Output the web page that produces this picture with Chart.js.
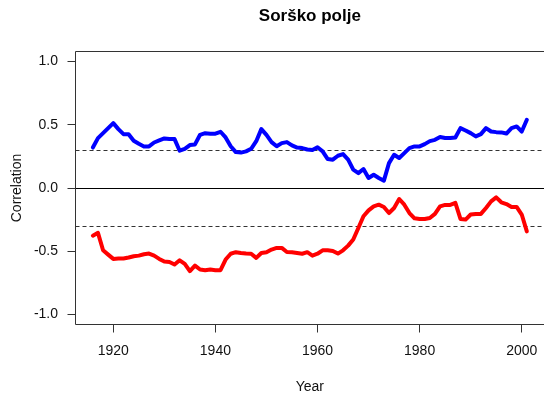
<!DOCTYPE html>
<html>
<head>
<meta charset="UTF-8">
<title>Sorško polje</title>
<style>
  html, body { margin: 0; padding: 0; background: #fff; overflow: hidden; }
  #wrap { width: 560px; height: 398px; }
</style>
<script src="https://cdn.jsdelivr.net/npm/chart.js"></script>
</head>
<body>
<div id="wrap"><canvas id="chart" width="560" height="398"></canvas></div>
<script>
  // yearly correlations, 1916 .. 2001
  var firstYear = 1916;

  var positive = [
    0.32, 0.395, 0.434, 0.474, 0.513, 0.466, 0.426, 0.426, 0.374, 0.35,
    0.329, 0.329, 0.36, 0.376, 0.392, 0.387, 0.387, 0.295, 0.31, 0.34,
    0.345, 0.421, 0.434, 0.43, 0.43, 0.445, 0.40, 0.33, 0.284, 0.28,
    0.29, 0.31, 0.37, 0.466, 0.42, 0.363, 0.33, 0.355, 0.363, 0.337,
    0.32, 0.316, 0.305, 0.30, 0.322, 0.29, 0.229, 0.224, 0.255, 0.268,
    0.224, 0.145, 0.118, 0.15, 0.079, 0.105, 0.079, 0.058, 0.197, 0.263,
    0.237, 0.276, 0.316, 0.329, 0.329, 0.347, 0.371, 0.381, 0.403, 0.395,
    0.395, 0.40, 0.474, 0.455, 0.434, 0.408, 0.426, 0.474, 0.447, 0.442,
    0.44, 0.431, 0.474, 0.487, 0.447, 0.54
  ];

  var negative = [
    -0.377, -0.355, -0.493, -0.527, -0.561, -0.558, -0.558, -0.55, -0.54, -0.535,
    -0.524, -0.519, -0.535, -0.561, -0.582, -0.585, -0.606, -0.572, -0.60, -0.658,
    -0.614, -0.645, -0.65, -0.645, -0.65, -0.65, -0.566, -0.52, -0.508, -0.514,
    -0.519, -0.52, -0.553, -0.514, -0.508, -0.487, -0.474, -0.474, -0.506, -0.508,
    -0.514, -0.52, -0.508, -0.535, -0.52, -0.493, -0.493, -0.498, -0.519, -0.493,
    -0.456, -0.408, -0.316, -0.224, -0.177, -0.145, -0.132, -0.15, -0.198, -0.158,
    -0.087, -0.132, -0.198, -0.24, -0.245, -0.245, -0.237, -0.205, -0.145, -0.134,
    -0.134, -0.118, -0.245, -0.25, -0.21, -0.205, -0.205, -0.158, -0.106, -0.074,
    -0.113, -0.127, -0.15, -0.15, -0.21, -0.343
  ];

  var yearTicks = [1920, 1940, 1960, 1980, 2000];
  var corrTicks = [-1, -0.5, 0, 0.5, 1];
  var threshold = 0.3;

  var font = "'Liberation Sans', Arial, sans-serif";

  function toPoints(values) {
    return values.map(function (v, i) { return { x: firstYear + i, y: v }; });
  }

  function fixedTicks(values) {
    return function (scale) {
      scale.ticks = values.map(function (v) { return { value: v }; });
    };
  }

  // box around the plot plus the zero line and the +-threshold dashed lines
  var framePlugin = {
    id: 'frame',
    beforeDatasetsDraw: function (chart) {
      var a = chart.chartArea, ctx = chart.ctx, ys = chart.scales.y;
      ctx.save();
      ctx.lineWidth = 1;

      ctx.strokeStyle = '#000';
      var y0 = Math.round(ys.getPixelForValue(0)) + 0.5;
      ctx.beginPath();
      ctx.moveTo(a.left, y0);
      ctx.lineTo(a.right, y0);
      ctx.stroke();

      ctx.strokeStyle = '#333';
      ctx.setLineDash([4, 3]);
      [threshold, -threshold].forEach(function (t) {
        var yy = Math.round(ys.getPixelForValue(t)) + 0.5;
        ctx.beginPath();
        ctx.moveTo(a.left, yy);
        ctx.lineTo(a.right, yy);
        ctx.stroke();
      });
      ctx.setLineDash([]);

      ctx.strokeStyle = '#333';
      var l = Math.floor(a.left) + 0.5, t = Math.floor(a.top) + 0.5, b = Math.floor(a.bottom) + 0.5;
      ctx.beginPath();
      ctx.moveTo(a.right, t);
      ctx.lineTo(l, t);
      ctx.lineTo(l, b);
      ctx.lineTo(a.right, b);
      ctx.stroke();
      ctx.restore();
    }
  };

  function lineSet(values, colour) {
    return {
      data: toPoints(values),
      borderColor: colour,
      borderWidth: 4,
      pointRadius: 0,
      tension: 0,
      fill: false,
      borderCapStyle: 'round',
      borderJoinStyle: 'round'
    };
  }

  new Chart(document.getElementById('chart'), {
    type: 'line',
    data: {
      datasets: [lineSet(positive, '#0000ff'), lineSet(negative, '#ff0000')]
    },
    options: {
      responsive: false,
      animation: false,
      events: [],
      layout: { autoPadding: false, padding: { left: 0, top: 0, right: 15.8, bottom: 0 } },
      plugins: {
        legend: { display: false },
        tooltip: { enabled: false },
        title: {
          display: true,
          fullSize: false,
          text: 'Sorško polje',
          color: '#000',
          font: { family: font, size: 17, weight: 'bold', lineHeight: 1.2 },
          padding: { top: 6.5, bottom: 24.6 }
        }
      },
      scales: {
        x: {
          type: 'linear',
          min: 1912.6,
          max: 2004.4,
          afterBuildTicks: fixedTicks(yearTicks),
          afterFit: function (s) { s.height = 73.5; },
          border: { display: false },
          grid: { drawOnChartArea: false, drawTicks: true, tickLength: 8, color: '#333', lineWidth: 1 },
          ticks: {
            color: '#111', padding: 10.5, maxRotation: 0,
            font: { family: font, size: 14 },
            callback: function (v) { return String(v); }
          },
          title: { display: true, text: 'Year', color: '#111', font: { family: font, size: 14 }, padding: 2 }
        },
        y: {
          min: -1.08,
          max: 1.08,
          afterBuildTicks: fixedTicks(corrTicks),
          afterFit: function (s) { s.width = 75.5; },
          border: { display: false },
          grid: { drawOnChartArea: false, drawTicks: true, tickLength: 8, color: '#333', lineWidth: 1 },
          ticks: {
            color: '#111', padding: 9.5,
            font: { family: font, size: 14 },
            callback: function (v) { return v.toFixed(1); }
          },
          title: { display: true, text: 'Correlation', color: '#111', font: { family: font, size: 14 }, padding: 8.3 }
        }
      }
    },
    plugins: [framePlugin]
  });
</script>
</body>
</html>
